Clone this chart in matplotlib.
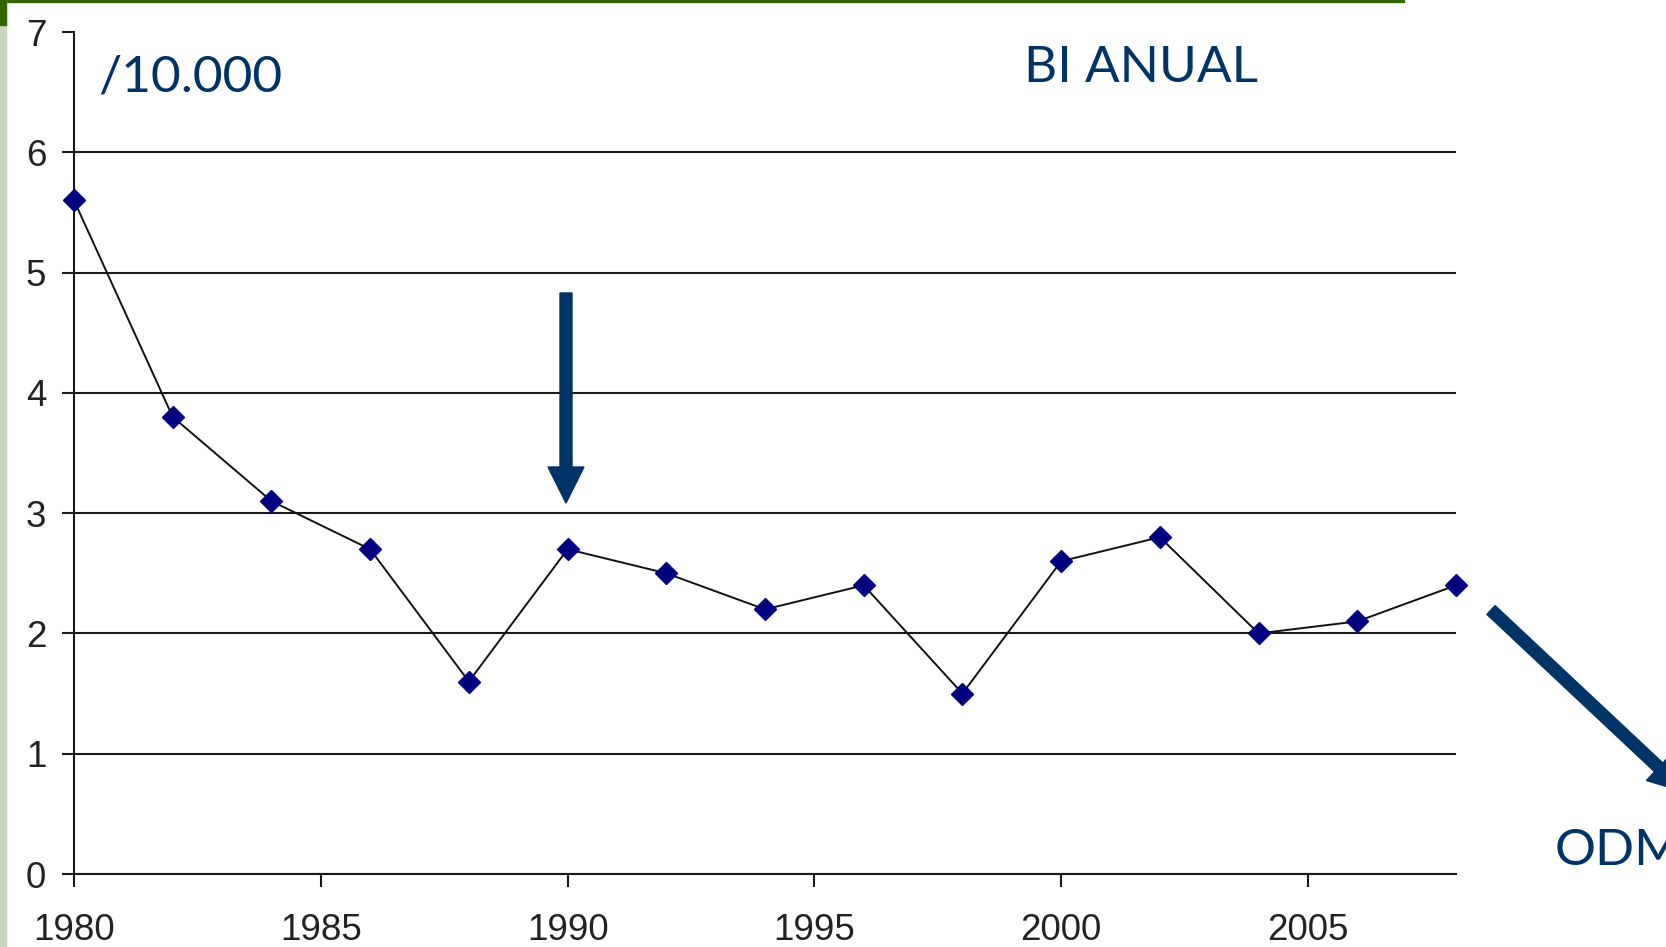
"""Rate per 10.000, two-yearly series 1980-2008, with ODM arrow annotations."""
import matplotlib
matplotlib.use("Agg")
import matplotlib.pyplot as plt
import matplotlib.patches as mpatches
from matplotlib.transforms import IdentityTransform

years = [1980, 1982, 1984, 1986, 1988, 1990, 1992, 1994,
         1996, 1998, 2000, 2002, 2004, 2006, 2008]
rate = [5.6, 3.8, 3.1, 2.7, 1.6, 2.7, 2.5, 2.2,
        2.4, 1.5, 2.6, 2.8, 2.0, 2.1, 2.4]
x_ticks = [1980, 1985, 1990, 1995, 2000, 2005]
y_ticks = [0, 1, 2, 3, 4, 5, 6, 7]

W, H = 1666, 947
NAVY = "#003366"
fig = plt.figure(figsize=(W / 100, H / 100), dpi=100, facecolor="white")
ax = fig.add_axes([74 / W, 73 / H, (1456 - 74) / W, (874 - 32) / H])

ax.plot(years, rate, color="#111111", lw=1.4, marker="D", ms=11,
        mfc="#000080", mec="#000080", clip_on=False, zorder=3)

ax.set_xlim(1980, 2008)
ax.set_ylim(0, 7)
ax.set_xticks(x_ticks)
ax.set_yticks(y_ticks)
ax.yaxis.grid(True, color="#1a1a1a", lw=1.5)
ax.get_ygridlines()[-1].set_visible(False)
ax.set_axisbelow(True)

for side in ("top", "right"):
    ax.spines[side].set_visible(False)
for side in ("left", "bottom"):
    ax.spines[side].set_color("#1a1a1a")
    ax.spines[side].set_linewidth(1.5)

ax.tick_params(axis="both", direction="out", length=9, width=1.5,
               color="#1a1a1a", labelsize=26.5, labelcolor="#222222")
ax.tick_params(axis="x", pad=19)
ax.tick_params(axis="y", pad=11)
for lab in ax.get_xticklabels() + ax.get_yticklabels():
    lab.set_family("Liberation Sans")


def px(x, y):
    # top-left pixel coordinates -> figure fraction
    return x / W, 1 - y / H


fig.text(*px(98, 92), "/10.000", fontsize=37, color=NAVY,
         family="Lato", va="baseline", ha="left")
fig.text(*px(1024, 82), "BI ANUAL", fontsize=37, color=NAVY,
         family="Lato", va="baseline", ha="left")
fig.text(*px(1555, 865), "ODM", fontsize=37, color=NAVY,
         family="Lato", va="baseline", ha="left")

# arrows drawn in display pixels (y measured from the bottom)
down = mpatches.FancyArrow(566, H - 293, 0, -(503 - 293), width=12,
                           head_width=36, head_length=36,
                           length_includes_head=True, color=NAVY,
                           transform=IdentityTransform())
diag = mpatches.FancyArrow(1491, H - 610, 194, -182, width=12,
                           head_width=36, head_length=36,
                           length_includes_head=True, color=NAVY,
                           transform=IdentityTransform())
fig.add_artist(down)
fig.add_artist(diag)

# slide frame remnants: green top rule and textured left strip
fig.add_artist(mpatches.Rectangle((0, H - 2), 1404, 2, color="#336600",
                                  transform=IdentityTransform()))
fig.add_artist(mpatches.Rectangle((0, 0), 6, H, color="#c9d5bd",
                                  transform=IdentityTransform()))
fig.add_artist(mpatches.Rectangle((0, H - 25), 6, 25, color="#336600",
                                  transform=IdentityTransform()))

fig.savefig("out.png", dpi=100, facecolor="white")
